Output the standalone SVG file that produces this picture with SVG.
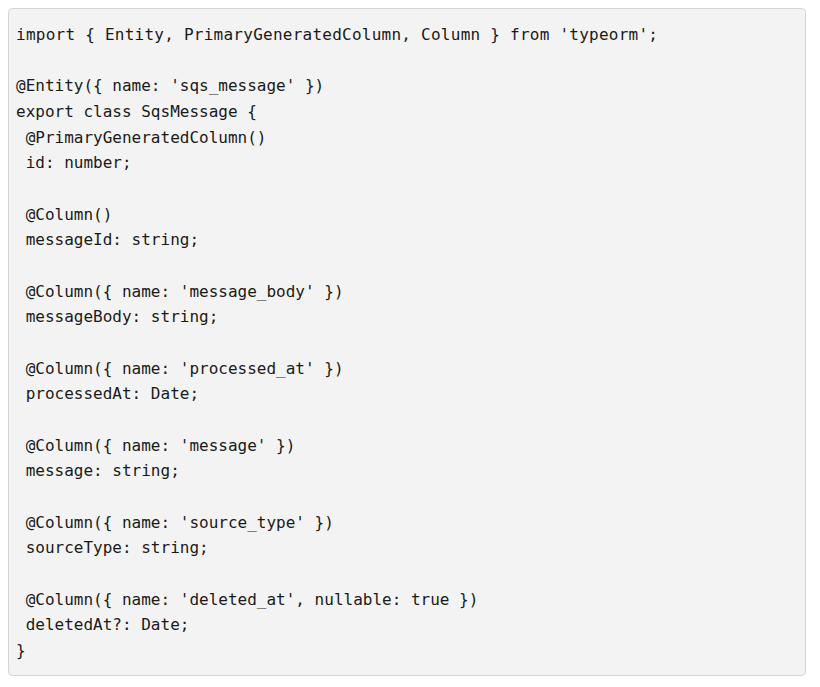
<svg xmlns="http://www.w3.org/2000/svg" width="820" height="687" viewBox="0 0 820 687">
<style>
text{font-family:"DejaVu Sans Mono","Liberation Mono",monospace;font-size:16px;fill:#1a1a1a;white-space:pre}
</style>
<rect width="820" height="687" fill="#fff"/>
<rect x="8.5" y="8.5" width="797" height="667" rx="4" fill="#f3f3f3" stroke="#d4d4d4"/>
<g id="code" xml:space="preserve">
<text x="16" y="40" textLength="642">import { Entity, PrimaryGeneratedColumn, Column } from 'typeorm';</text>
<text x="16" y="91.3">@Entity({ name: 'sqs_message' })</text>
<text x="16" y="117">export class SqsMessage {</text>
<text x="16" y="142.7"> @PrimaryGeneratedColumn()</text>
<text x="16" y="168.3"> id: number;</text>
<text x="16" y="219.7"> @Column()</text>
<text x="16" y="245.3"> messageId: string;</text>
<text x="16" y="296.7"> @Column({ name: 'message_body' })</text>
<text x="16" y="322.3"> messageBody: string;</text>
<text x="16" y="373.7"> @Column({ name: 'processed_at' })</text>
<text x="16" y="399.3"> processedAt: Date;</text>
<text x="16" y="450.7"> @Column({ name: 'message' })</text>
<text x="16" y="476.3"> message: string;</text>
<text x="16" y="527.7"> @Column({ name: 'source_type' })</text>
<text x="16" y="553.3"> sourceType: string;</text>
<text x="16" y="604.7"> @Column({ name: 'deleted_at', nullable: true })</text>
<text x="16" y="630.3"> deletedAt?: Date;</text>
<text x="16" y="656">}</text>
</g>
</svg>
